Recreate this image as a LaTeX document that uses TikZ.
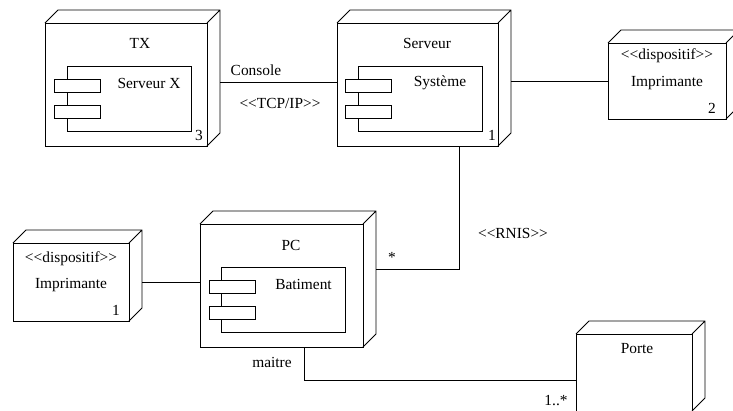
\documentclass[tikz,border=0pt]{standalone}
\usepackage{fontspec}
\setmainfont{Liberation Serif}[Ligatures=TeXOff]
\usetikzlibrary{positioning}
\newcommand{\boite}[1]{%
  \draw (#1.north west) -- ++(13,-13) -- ([shift={(13pt,13pt)}]#1.north east)
    -- ([shift={(13pt,13pt)}]#1.south east) -- (#1.south east)
    (#1.north east) -- ++(13,-13);}
\newcommand{\composant}[3]{%
  \node[comp] (#1) at (#2) {};
  \node[onglet,anchor=north west] (#1_a) at ([shift={(-13pt,-13pt)}]#1.north west) {};
  \node[onglet,anchor=north west] (#1_b) at ([shift={(-13pt,-39pt)}]#1.north west) {};
  \node (#1_nom) at ([shift={(20pt,-17pt)}]#1.north) {#3};}

\begin{document}
\begin{tikzpicture}[x=1pt,y=-1pt,line width=0.8pt,font=\fontsize{15.4}{18}\selectfont,
  noeud/.style={draw,inner sep=0pt,outer sep=0pt},
  comp/.style={draw,minimum width=124,minimum height=65,inner sep=0pt,outer sep=0pt},
  onglet/.style={draw,fill=white,minimum width=46,minimum height=13,inner sep=0pt}]
	\useasboundingbox (0,0) rectangle (733,410);

	% noeuds
	\node[noeud,minimum width=162,minimum height=123] (tx) at (126,84.5) {};
	\node[noeud,minimum width=161,minimum height=123] (serveur) at (417.5,84.5) {};
	\node[noeud,minimum width=118,minimum height=76] (imp2) at (667,81) {};
	\node[noeud,minimum width=163,minimum height=123] (pc) at (281.5,285.5) {};
	\node[noeud,minimum width=116,minimum height=78] (imp1) at (71,282) {};
	\node[noeud,minimum width=116,minimum height=77] (porte) at (634,372.5) {};
	\boite{tx} \boite{serveur} \boite{imp2} \boite{pc} \boite{imp1} \boite{porte}

	% composants
	\composant{sx}{129,98.5}{Serveur X}
	\composant{sys}{420,98.5}{Système}
	\composant{bat}{283.5,299.5}{Batiment}

	% textes des noeuds
	\node (tx_titre) at (140,43) {TX};
	\node (tx_nb) at (199,135) {3};
	\node (serveur_titre) at (427,43) {Serveur};
	\node (serveur_nb) at (492,135) {1};
	\node (imp2_st) at (667,56) {<<dispositif>>};
	\node (imp2_titre) at (667,83) {Imprimante};
	\node (imp2_nb) at (712,108) {2};
	\node (pc_titre) at (291,245) {PC};
	\node (imp1_st) at (71,259) {<<dispositif>>};
	\node (imp1_titre) at (71,285) {Imprimante};
	\node (imp1_nb) at (116,310) {1};
	\node (porte_titre) at (637,349) {Porte};

	% liens
	\draw ([shift={(13pt,2.5pt)}]tx.east) -- ([yshift=2.5pt]serveur.west);
	\draw ([xshift=13pt]serveur.east |- imp2.west) -- (imp2.west);
	\draw ([xshift=41.5pt]serveur.south) |- ([shift={(13pt,16.5pt)}]pc.east);
	\draw ([xshift=13pt]imp1.east) -- (imp1.east -| pc.west);
	\draw ([xshift=22.5pt]pc.south) |- ([yshift=-7.5pt]porte.west);

	\node[anchor=west] (console) at (227,70) {Console};
	\node (tcpip) at (280,103) {<<TCP/IP>>};
	\node (rnis) at (513,233) {<<RNIS>>};
	\node (etoile) at (392,257) {*};
	\node (maitre) at (272,362) {maitre};
	\node (multi) at (556,401) {1..*};
\end{tikzpicture}
\end{document}
